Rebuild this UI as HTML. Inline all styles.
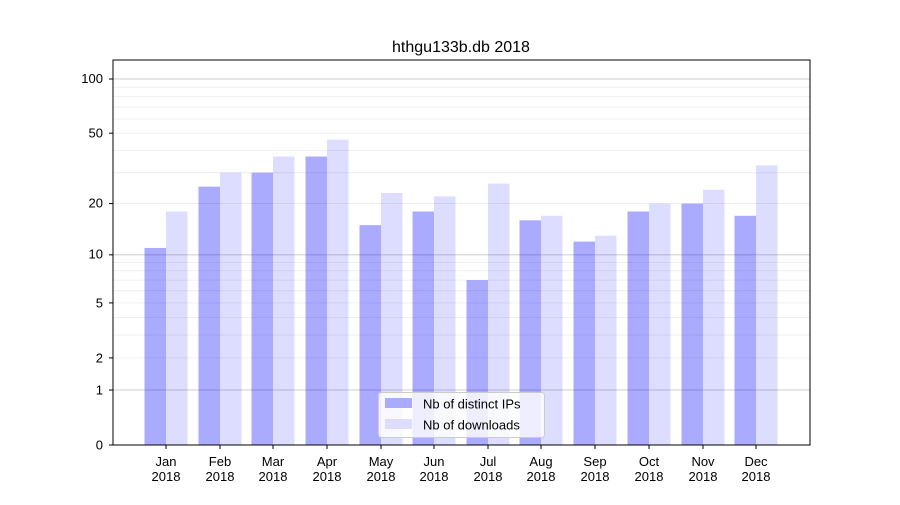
<!DOCTYPE html>
<html><head><meta charset="utf-8"><style>
body{margin:0;background:#fff;}
svg{font-family:"Liberation Sans","DejaVu Sans",sans-serif;}
</style></head><body>
<svg id="s" width="900" height="500" xmlns="http://www.w3.org/2000/svg">
<rect width="900" height="500" fill="#fff"/>
<g id="grid"></g>
<g id="bars"></g>
<rect x="113" y="60" width="697" height="385" fill="none" stroke="#000" stroke-width="1"/>
<text x="461" y="52" font-size="16" text-anchor="middle">hthgu133b.db 2018</text>
<g font-size="13" text-anchor="end">
<text x="103" y="449.5">0</text>
<text x="103" y="394.5">1</text>
<text x="103" y="362.5">2</text>
<text x="103" y="307.5">5</text>
<text x="103" y="258.5">10</text>
<text x="103" y="207.5">20</text>
<text x="103" y="137.5">50</text>
<text x="103" y="83">100</text>
</g>
<g id="xl" font-size="13" text-anchor="middle">
<text x="166" y="466">Jan</text><text x="166" y="481">2018</text>
<text x="220" y="466">Feb</text><text x="220" y="481">2018</text>
<text x="273" y="466">Mar</text><text x="273" y="481">2018</text>
<text x="327" y="466">Apr</text><text x="327" y="481">2018</text>
<text x="381" y="466">May</text><text x="381" y="481">2018</text>
<text x="434" y="466">Jun</text><text x="434" y="481">2018</text>
<text x="488" y="466">Jul</text><text x="488" y="481">2018</text>
<text x="541" y="466">Aug</text><text x="541" y="481">2018</text>
<text x="595" y="466">Sep</text><text x="595" y="481">2018</text>
<text x="649" y="466">Oct</text><text x="649" y="481">2018</text>
<text x="703" y="466">Nov</text><text x="703" y="481">2018</text>
<text x="756" y="466">Dec</text><text x="756" y="481">2018</text>
</g>
<g>
<rect x="378.5" y="392.5" width="166" height="45" rx="3" fill="#fff" fill-opacity="0.8" stroke="#ccc"/>
<rect x="385" y="398" width="27" height="10" fill="#aaaaff"/>
<rect x="385" y="419" width="27" height="10" fill="#ddddff"/>
<text x="423" y="408.5" font-size="13">Nb of distinct IPs</text>
<text x="423" y="429.5" font-size="13">Nb of downloads</text>
</g>
</svg>
<script>
var ns="http://www.w3.org/2000/svg";
function Y(v){return 445-182.6*Math.log10(v+1);}
var g=document.getElementById('grid');
function ln(y,c){var l=document.createElementNS(ns,'line');l.setAttribute('x1',113);l.setAttribute('x2',810);l.setAttribute('y1',y);l.setAttribute('y2',y);l.setAttribute('stroke',c);l.setAttribute('stroke-width',0.8);g.appendChild(l);}
[2,3,4,5,6,7,8,9,20,30,40,50,60,70,80,90].forEach(function(v){ln(Y(v),'#ececec');});
[1,10,100].forEach(function(v){ln(Y(v),'#bcbcbc');});
var ips=[11,25,30,37,15,18,7,16,12,18,20,17];
var dl=[18,30,37,46,23,22,26,17,13,20,24,33];
var cx=[166,220,273,327,381,434,488,541,595,649,703,756];
var b=document.getElementById('bars');
function bar(x,v,c,o){var r=document.createElementNS(ns,'rect');var y=Y(v);r.setAttribute('x',x);r.setAttribute('y',y);r.setAttribute('width',21.5);r.setAttribute('height',445-y);r.setAttribute('fill',c);r.setAttribute('fill-opacity',o);b.appendChild(r);}
for(var i=0;i<12;i++){bar(cx[i]-21.5,ips[i],'#0000ff',0.333);bar(cx[i],dl[i],'#0000ff',0.133);}
var t=document.getElementById('s');
[0,1,2,5,10,20,50,100].forEach(function(v){var l=document.createElementNS(ns,'line');l.setAttribute('x1',109);l.setAttribute('x2',113);l.setAttribute('y1',Y(v));l.setAttribute('y2',Y(v));l.setAttribute('stroke','#000');t.appendChild(l);});
cx.forEach(function(x){var l=document.createElementNS(ns,'line');l.setAttribute('x1',x);l.setAttribute('x2',x);l.setAttribute('y1',445);l.setAttribute('y2',449);l.setAttribute('stroke','#000');t.appendChild(l);});
</script>
</body></html>
